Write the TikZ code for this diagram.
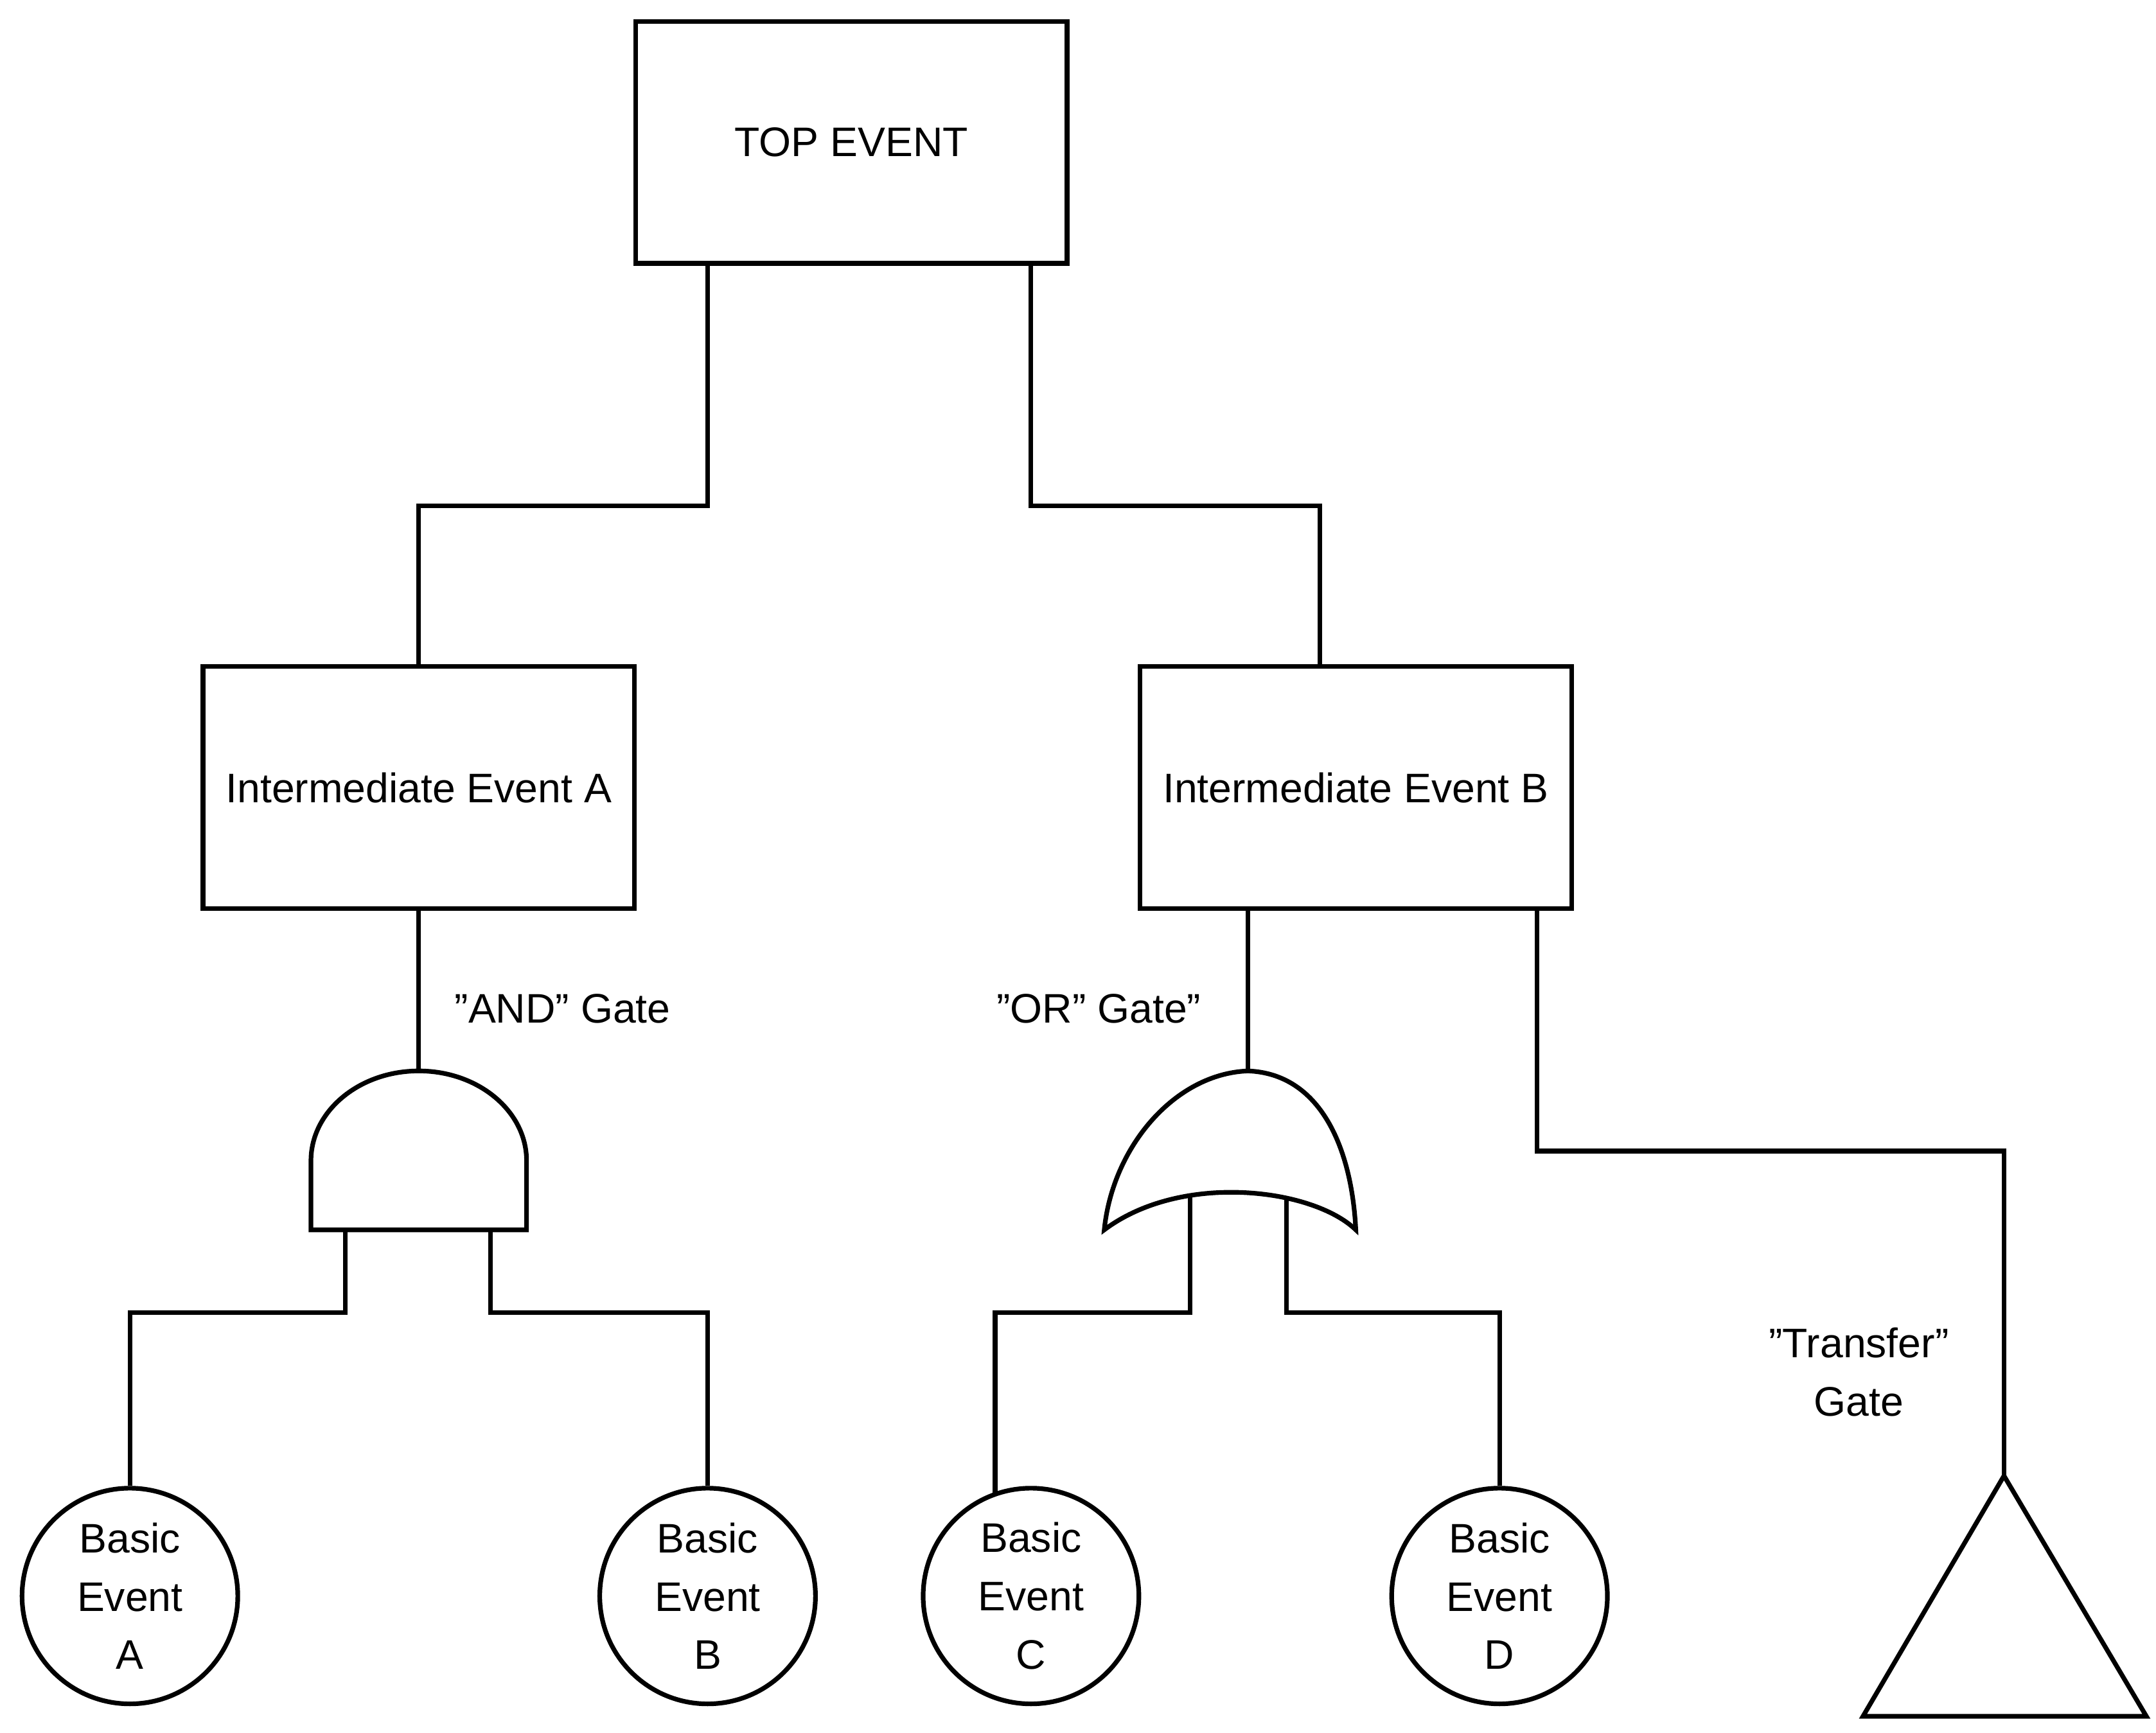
\documentclass[tikz,border=0pt]{standalone}
\usepackage{fontspec}
\setmainfont{Liberation Sans}
\newcommand{\qq}{\symbol{34}}
\begin{document}
\begin{tikzpicture}[x=0.01cm,y=-0.01cm,line width=0.95pt,
  box/.style={draw,minimum width=3.12cm,minimum height=1.75cm,font=\fontsize{8.5}{10}\selectfont},
  ev/.style={draw,circle,minimum size=1.56cm,inner sep=0pt,align=center,font=\fontsize{8.5}{12}\selectfont},
  lbl/.style={font=\fontsize{8.5}{12}\selectfont,align=center}]
\useasboundingbox (0,0) rectangle (1560,1254);
\node[box] (top) at (616,103) {TOP EVENT};
\node[box] (ia) at (303,570) {Intermediate Event A};
\node[box] (ib) at (981,570) {Intermediate Event B};
\node[ev] (a) at (94,1155) {Basic\\Event\\A};
\node[ev] (b) at (512,1155) {Basic\\Event\\B};
\node[ev] (c) at (746,1155) {Basic\\Event\\C};
\node[ev] (d) at (1085,1155) {Basic\\Event\\D};
% gates
\coordinate (andtop) at (303,775);
\coordinate (orttop) at (903,775);
\coordinate (andl) at (250,890);
\coordinate (andr) at (355,890);
\coordinate (orl) at (861,866);
\coordinate (orr) at (931,866);
\coordinate (tr) at (1450,1068);
\draw (225,890) -- (225,840) arc[start angle=180,end angle=360,x radius=78,y radius=65] -- (381,890) -- cycle;
\draw (orttop) .. controls (955,777) and (978,830) .. (981,890)
  .. controls (950,860) and (855,848) .. (799,890)
  .. controls (805,830) and (850,777) .. (orttop);
\draw (tr) -- (1553,1242) -- (1348,1242) -- cycle;
% connectors
\draw (top.south -| 512,0) |- (303,366) -- (ia.north);
\draw (top.south -| 746,0) |- (955,366) -- (ib.north -| 955,0);
\draw (ia.south) -- (andtop);
\draw (ib.south -| orttop) -- (orttop);
\draw (ib.south -| 1112,0) |- (1450,833) -- (tr);
\draw (andl) |- (94,950) -- (a.north);
\draw (andr) |- (512,950) -- (b.north);
\draw (orl) |- (720,950) -- (720,1082);
\draw (orr) |- (1085,950) -- (d.north);
\node[lbl] (l1) at (407,730) {\qq AND\qq\ Gate};
\node[lbl] (l2) at (795,730) {\qq OR\qq\ Gate\qq};
\node[lbl] (l3) at (1345,993) {\qq Transfer\qq\\Gate};
\end{tikzpicture}
\end{document}
